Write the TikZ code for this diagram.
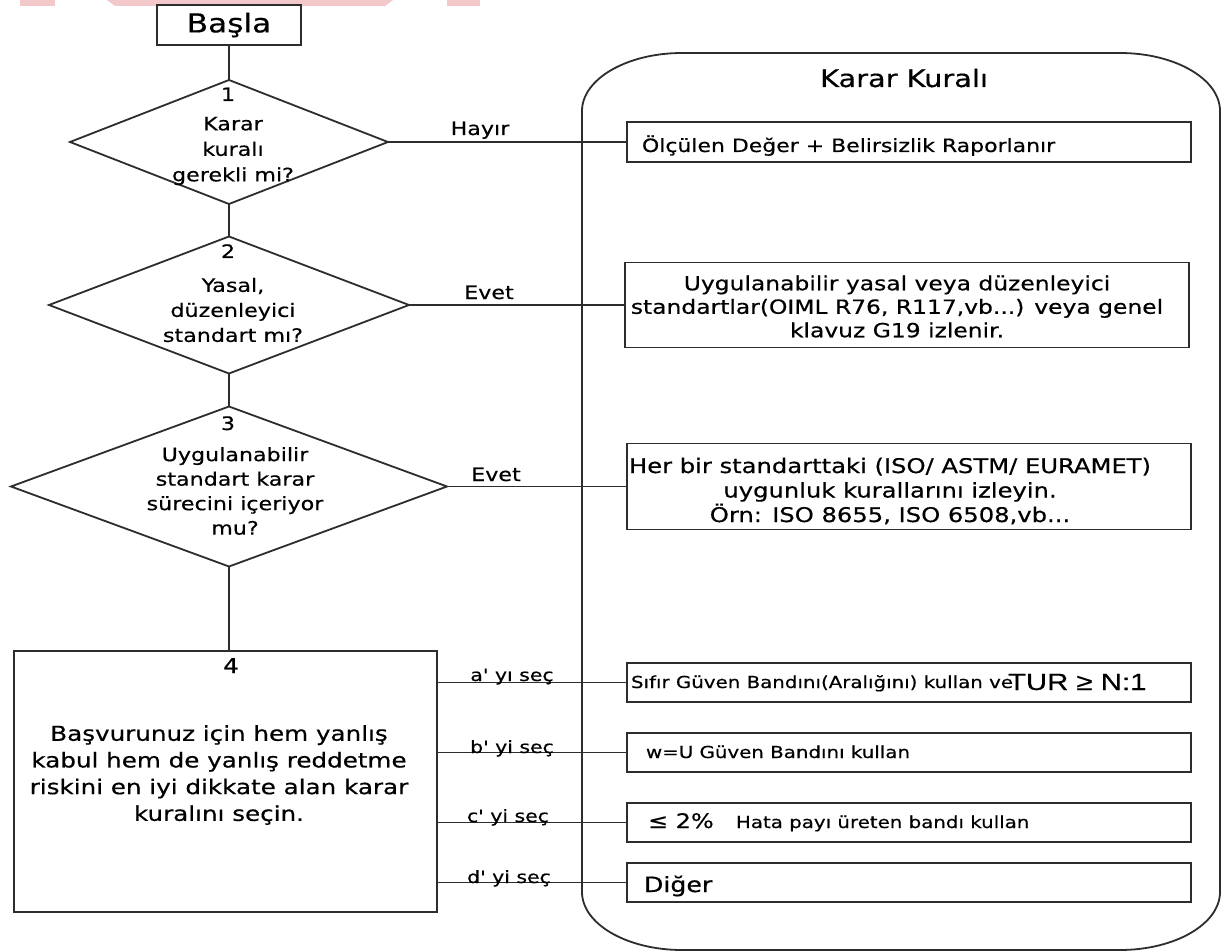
\documentclass[tikz,border=0pt]{standalone}
\usepackage{fontspec}
\setmainfont{DejaVu Sans}[FakeStretch=1.2,FakeBold=0.5]
\newfontfamily\plainf{DejaVu Sans}[FakeStretch=1.2,FakeBold=0.5]
\newfontfamily\arialf{Liberation Sans}[FakeStretch=1.25,FakeBold=0.5]
\usetikzlibrary{shapes.geometric}
\definecolor{lnc}{RGB}{45,45,45}
\definecolor{wm}{RGB}{242,200,203}
\newcommand{\fs}[2]{\fontsize{#1}{#2}\selectfont}
\tikzset{
  ln/.style={draw=lnc, line width=1.8pt},
  box/.style={ln, rectangle, inner sep=0pt, outer sep=0pt},
  dia/.style={ln, diamond, inner sep=0pt, outer sep=0pt},
  txt/.style={inner sep=0pt, outer sep=0pt, align=center, text=black},
  lbl/.style={inner sep=0pt, outer sep=0pt, anchor=base, text=black},
  lw/.style={inner sep=0pt, outer sep=0pt, anchor=base west, text=black},
}
\begin{document}
\begin{tikzpicture}[x=1pt,y=-1pt]
\useasboundingbox (0,0) rectangle (1224,952);
\fill[white] (0,0) rectangle (1224,952);
% watermark fragments
\fill[wm] (20,0) rectangle (55,6);
\fill[wm] (107,0) -- (393,0) -- (385,6) -- (115,6) -- cycle;
\fill[wm] (447,0) rectangle (480,6);

% container
\draw[ln] (682,53) -- (1120,53) .. controls (1175,53) and (1220,79) .. (1220,111)
  -- (1220,892) .. controls (1220,924) and (1175,950) .. (1120,950)
  -- (682,950) .. controls (627,950) and (582,924) .. (582,892)
  -- (582,111) .. controls (582,79) and (627,53) .. (682,53) -- cycle;
\node[lbl, font=\fs{24}{28}] (title) at (904,87) {Karar Kuralı};

% left column
\node[box, minimum width=144pt, minimum height=40pt, font=\fs{26}{29}] (start) at (229,25) {Başla};
\node[dia, minimum width=318pt, minimum height=124pt] (d1) at (229,142) {};
\node[dia, minimum width=360pt, minimum height=137pt] (d2) at (229,305) {};
\node[dia, minimum width=436pt, minimum height=160pt] (d3) at (229,486.5) {};
\node[box, minimum width=423pt, minimum height=261pt] (b4) at (225.5,781.5) {};

\node[lbl, font=\fs{18.5}{25}] (n1) at (228,101) {1};
\node[txt, font=\fs{18.5}{25.5}] (t1) at (233,151) {Karar\\kuralı\\gerekli mi?};
\node[lbl, font=\fs{18.5}{25}] (n2) at (228,258) {2};
\node[txt, font=\fs{18.5}{25}] (t2) at (233,310) {Yasal,\\düzenleyici\\standart mı?};
\node[lbl, font=\fs{18.5}{25}] (n3) at (228,430) {3};
\node[txt, font=\fs{18.5}{24.5}] (t3) at (235,491) {Uygulanabilir\\standart karar\\sürecini içeriyor\\mu?};
\node[lbl, font=\fs{20.5}{26}] (n4) at (231,673) {4};
\node[txt, font=\fs{20.5}{26.7}] (t4) at (219,775) {Başvurunuz için hem yanlış\\kabul hem de yanlış reddetme\\riskini en iyi dikkate alan karar\\kuralını seçin.};

% right boxes
\node[box, minimum width=564pt, minimum height=40pt] (r1) at (909,142) {};
\node[box, minimum width=564pt, minimum height=85pt] (r2) at (907,305) {};
\node[box, minimum width=564pt, minimum height=86pt] (r3) at (909,486.5) {};
\node[box, minimum width=564pt, minimum height=39pt] (ra) at (909,682.5) {};
\node[box, minimum width=564pt, minimum height=39pt] (rb) at (909,752.5) {};
\node[box, minimum width=564pt, minimum height=39pt] (rc) at (909,822.5) {};
\node[box, minimum width=564pt, minimum height=39pt] (rd) at (909,882.5) {};

\node[lw, font=\fs{18.3}{22}] (r1t) at (642,152) {Ölçülen Değer + Belirsizlik Raporlanır};
\node[txt, font=\fs{19.5}{23.5}] (r2t) at (897,306.5) {Uygulanabilir yasal veya düzenleyici\\standartlar(OIML R76, R117,vb...) veya genel\\klavuz G19 izlenir.};
\node[txt, font=\fs{20.2}{24.5}] (r3t) at (890,491) {Her bir standarttaki (ISO/ ASTM/ EURAMET)\\uygunluk kurallarını izleyin.\\Örn: ISO 8655, ISO 6508,vb...};
\node[lw, font=\fs{16.5}{20}] (rat) at (631,688) {Sıfır Güven Bandını(Aralığını) kullan ve};
\node[lw, font=\arialf\fs{23.5}{27}] (rat2) at (1008,690) {TUR ≥ N:1};
\node[lw, font=\fs{16.5}{20}] (rbt) at (646,758) {w=U Güven Bandını kullan};
\node[lw, font=\fs{20}{24}] (rct1) at (648,828) {≤ 2\%};
\node[lw, font=\fs{16.5}{20}] (rct2) at (736,828) {Hata payı üreten bandı kullan};
\node[lw, font=\fs{21}{25}] (rdt) at (644,892) {Diğer};

% connectors
\draw[ln] (start) -- (d1);
\draw[ln] (d1) -- (d2);
\draw[ln] (d2) -- (d3);
\draw[ln] (d3.south) -- (d3.south |- b4.north);
\draw[ln] (d1.east) -- (r1.west);
\draw[ln] (d2.east) -- (r2.west);
\draw[ln] (d3.east) -- (r3.west);
\draw[ln] (ra.west -| b4.east) -- (ra.west);
\draw[ln] (rb.west -| b4.east) -- (rb.west);
\draw[ln] (rc.west -| b4.east) -- (rc.west);
\draw[ln] (rd.west -| b4.east) -- (rd.west);

% connector labels
\node[lbl, font=\fs{18.5}{22}] (lh) at (480,135) {Hayır};
\node[lbl, font=\fs{18.5}{22}] (le1) at (489,299) {Evet};
\node[lbl, font=\fs{18.5}{22}] (le2) at (496,481) {Evet};
\node[lbl, font=\plainf\fs{17}{20}] (la) at (512,681) {a' yı seç};
\node[lbl, font=\plainf\fs{17}{20}] (lb) at (512,753) {b' yi seç};
\node[lbl, font=\plainf\fs{17}{20}] (lc) at (508,822) {c' yi seç};
\node[lbl, font=\plainf\fs{17}{20}] (ld) at (509,883) {d' yi seç};
\end{tikzpicture}
\end{document}
